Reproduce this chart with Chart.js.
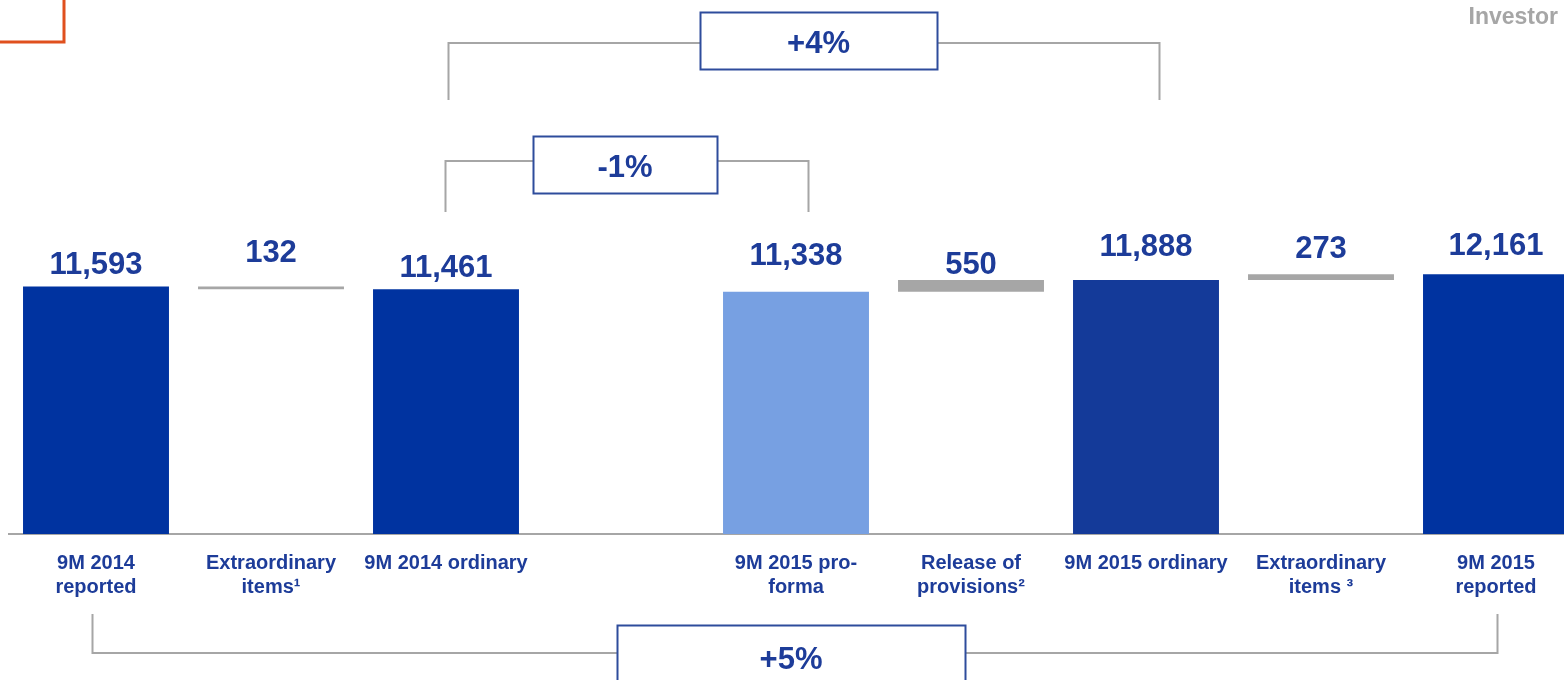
<!DOCTYPE html>
<html>
<head>
<meta charset="utf-8">
<script src="https://cdn.jsdelivr.net/npm/chart.js@4.4.1/dist/chart.umd.min.js"></script>
<style>
  html, body { margin: 0; padding: 0; background: #fff; overflow: hidden; }
  #wrap { position: relative; width: 1600px; height: 680px; }
</style>
</head>
<body>
<div id="wrap"><canvas id="bridge"></canvas></div>
<script>
// net income bridge, EUR m
const categories = [
  ["9M 2014", "reported"],
  ["Extraordinary", "items¹"],
  "9M 2014 ordinary",
  "",
  ["9M 2015 pro-", "forma"],
  ["Release of", "provisions²"],
  "9M 2015 ordinary",
  ["Extraordinary", "items ³"],
  ["9M 2015", "reported"]
];
const totals  = [11593, null, 11461, null, 11338, null, 11888, null, 12161];
const changes = [null, -132, null, null, null, 550, null, 273, null];
const changeLabels = ["+4%", "-1%", "+5%"];

const barColors = ["#0033A0", "#A6A6A6", "#0033A0", "rgba(0,0,0,0)", "#77A0E2", "#A6A6A6", "#143A99", "#A6A6A6", "#0033A0"];
const textBlue = "#1D3C99";
const lineGrey = "#A6A6A6";
const boxBlue = "#2E4C9C";
const FONT = '"Liberation Sans", Arial, sans-serif';

// totals stand on the axis, changes float from the last total
let running = null;
const barData = categories.map((c, i) => {
  if (totals[i] != null) { running = totals[i]; return totals[i]; }
  if (changes[i] != null) return [running, running + changes[i]];
  return null;
});

// how far each value label sits above its bar
const labelLift = [21, 33, 21, 0, 35, 15, 33, 25, 28];

// brackets: category ends, pixel nudges, line / foot heights, box
const brackets = [
  { from: 2, to: 6, dxFrom: 2, dxTo: 13, lineY: 43, footY: 100, box: [700, 12, 937, 69] },
  { from: 2, to: 4, dxFrom: -1, dxTo: 12, lineY: 161, footY: 212, box: [533, 136, 717, 193] },
  { from: 0, to: 8, dxFrom: -4, dxTo: 1, lineY: 653, footY: 614, box: [617, 625, 965, 700] }
];

const bridgeDecor = {
  id: "bridgeDecor",
  afterDraw(chart) {
    const { ctx } = chart;
    const x = chart.scales.x;
    const meta = chart.getDatasetMeta(0);
    ctx.save();

    // value labels
    ctx.font = "bold 31px " + FONT;
    ctx.fillStyle = textBlue;
    ctx.textAlign = "center";
    ctx.textBaseline = "middle";
    meta.data.forEach((bar, i) => {
      const v = totals[i] != null ? totals[i] : changes[i];
      if (v == null) return;
      const top = Math.min(bar.y, bar.base);
      ctx.fillText(Math.abs(v).toLocaleString("en-US"), bar.x, top - labelLift[i]);
    });

    // growth brackets
    brackets.forEach((b, k) => {
      const x1 = Math.round(x.getPixelForValue(b.from) + b.dxFrom) + 0.5;
      const x2 = Math.round(x.getPixelForValue(b.to) + b.dxTo) + 0.5;
      ctx.strokeStyle = lineGrey;
      ctx.lineWidth = 2;
      ctx.beginPath();
      ctx.moveTo(x1, b.footY);
      ctx.lineTo(x1, b.lineY);
      ctx.lineTo(x2, b.lineY);
      ctx.lineTo(x2, b.footY);
      ctx.stroke();

      const [bx1, by1, bx2, by2] = b.box;
      ctx.fillStyle = "#fff";
      ctx.fillRect(bx1, by1, bx2 - bx1, by2 - by1);
      ctx.strokeStyle = boxBlue;
      ctx.strokeRect(bx1 + 0.5, by1 + 0.5, bx2 - bx1, by2 - by1);

      ctx.fillStyle = textBlue;
      ctx.font = "bold 31px " + FONT;
      const ty = Math.min((by1 + by2) / 2, by1 + 31) + 4;
      ctx.fillText(changeLabels[k], (bx1 + bx2) / 2, ty);
    });

    // corner mark and header word
    ctx.strokeStyle = "#E0501E";
    ctx.lineWidth = 3;
    ctx.beginPath();
    ctx.moveTo(0, 42);
    ctx.lineTo(64, 42);
    ctx.lineTo(64, 0);
    ctx.stroke();

    ctx.fillStyle = lineGrey;
    ctx.font = "bold 23px " + FONT;
    ctx.textAlign = "right";
    ctx.fillText("Investor", 1558, 18);
    ctx.restore();
  }
};

new Chart(document.getElementById("bridge"), {
  type: "bar",
  data: {
    labels: categories,
    datasets: [{
      data: barData,
      backgroundColor: barColors,
      borderWidth: 0,
      categoryPercentage: 1,
      barPercentage: 0.834
    }]
  },
  options: {
    responsive: true,
    maintainAspectRatio: false,
    animation: false,
    layout: { padding: { left: 8.5, right: 16.5, top: 235, bottom: 0 } },
    plugins: { legend: { display: false }, tooltip: { enabled: false } },
    scales: {
      x: {
        grid: { display: false, drawTicks: false },
        border: { display: true, color: lineGrey, width: 2 },
        ticks: {
          color: textBlue,
          font: { family: FONT, size: 20, weight: "bold", lineHeight: 1.2 },
          padding: 17,
          autoSkip: false,
          maxRotation: 0
        },
        afterFit(scale) { scale.height = 146; }
      },
      y: { display: false, min: 0, max: 14000 }
    }
  },
  plugins: [bridgeDecor]
});
</script>
</body>
</html>
